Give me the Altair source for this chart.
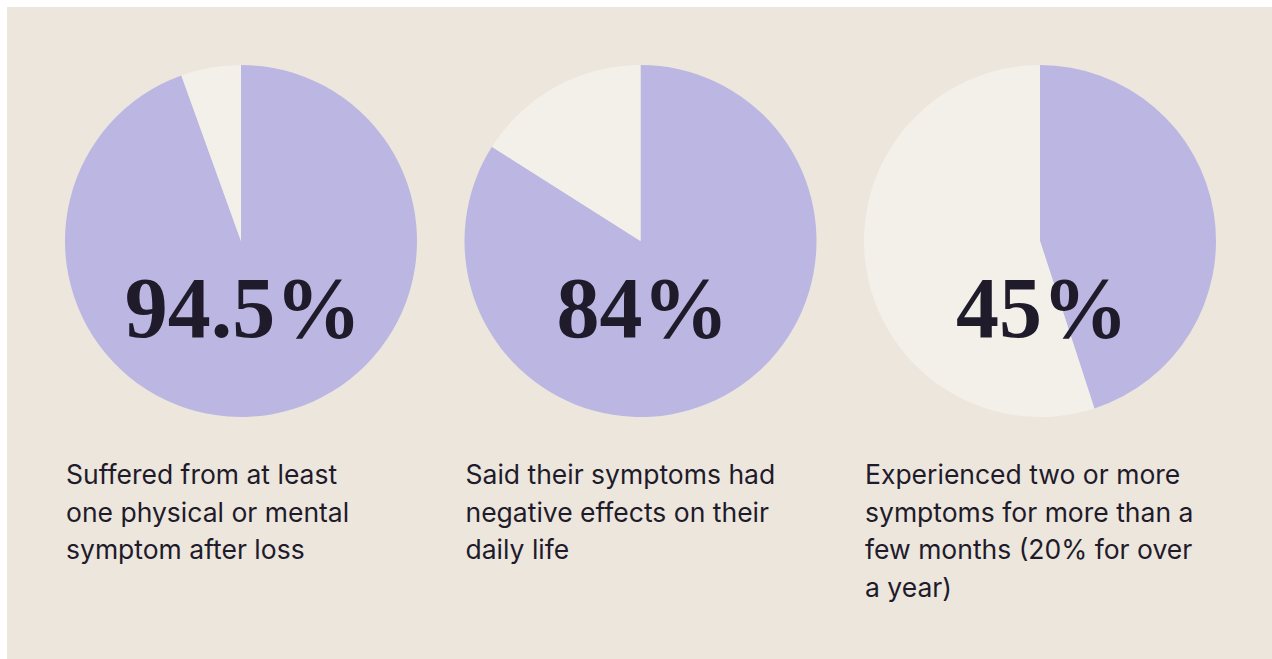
import math
import altair as alt
import pandas as pd

# ---- data ----
pies = ["A", "B", "C"]
shares = [94.5, 84, 45]
number_labels = ["94.5%", "84%", "45%"]
captions = [
    ["Suffered from at least", "one physical or mental", "symptom after loss"],
    ["Said their symptoms had", "negative effects on their", "daily life"],
    ["Experienced two or more", "symptoms for more than a", "few months (20% for over", "a year)"],
]

# ---- styles ----
BG = "#ece6dd"
PURPLE = "#bcb7e2"
CREAM = "#f3efe9"
INK = "#1f1b2b"

rows = []
for p, s in zip(pies, shares):
    rows.append({"pie": p, "part": "yes", "order": 0, "value": s})
    rows.append({"pie": p, "part": "no", "order": 1, "value": 100 - s})
arc_df = pd.DataFrame(rows)

label_df = pd.DataFrame({"pie": pies, "label": number_labels, "caption": captions})

xenc = alt.X("pie:N", scale=alt.Scale(type="point", domain=pies, range=[241, 1040], padding=0), axis=None)

bg = alt.Chart(pd.DataFrame({"k": [0]})).mark_rect(color=BG).encode(
    x=alt.value(7), x2=alt.value(1272), y=alt.value(7), y2=alt.value(659)
)

arcs = (
    alt.Chart(arc_df)
    .transform_window(cum="sum(value)", groupby=["pie"], sort=[alt.SortField("order")], frame=[None, 0])
    .transform_calculate(start="datum.cum - datum.value")
    .mark_arc(strokeWidth=0)
    .encode(
        x=xenc,
        y=alt.value(241),
        theta=alt.Theta("start:Q", scale=alt.Scale(domain=[0, 100], range=[0, 2 * math.pi])),
        theta2="cum:Q",
        radius=alt.value(176),
        color=alt.Color("part:N", scale=alt.Scale(domain=["yes", "no"], range=[PURPLE, CREAM]), legend=None),
    )
)

numbers = alt.Chart(label_df).mark_text(
    font="Liberation Serif", fontWeight="bold", fontSize=86, color=INK,
    align="center", baseline="alphabetic", dx=2,
).encode(x=xenc, y=alt.value(337), text="label:N")

caps = alt.Chart(label_df).mark_text(
    font="Inter", fontSize=26.5, color=INK, align="left", baseline="alphabetic",
    dx=-175, lineHeight=37.5,
).encode(x=xenc, y=alt.value(484), text="caption")

chart = (
    alt.layer(bg, arcs, numbers, caps)
    .properties(width=1272, height=659, autosize=alt.AutoSizeParams(type="none"), padding=0, background="white")
    .configure_view(stroke=None)
)

chart.save("out.html", embed_options={"renderer": "svg", "actions": False})
